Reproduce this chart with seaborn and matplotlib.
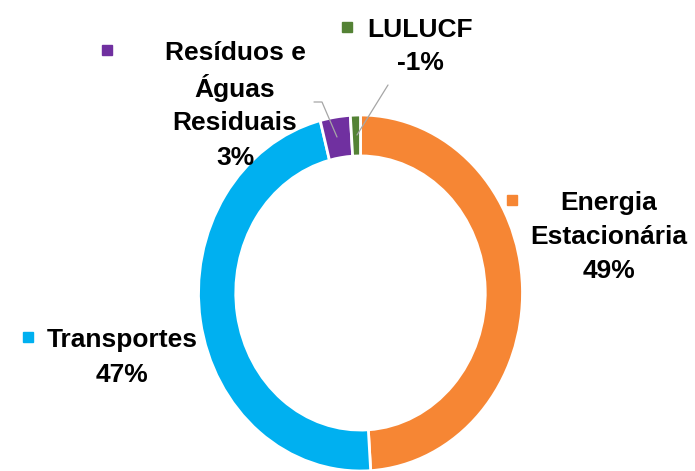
import matplotlib
matplotlib.use('Agg')
import matplotlib.pyplot as plt
import seaborn as sns

# ── Data ───────────────────────────────────────────────
sectors = ['Energia\nEstacionária', 'Transportes', 'Resíduos e\nÁguas\nResiduais', 'LULUCF']
shares = [49, 47, 3, 1]
share_labels = ['49%', '47%', '3%', '-1%']
colors = ['#F68634', '#00B0F0', '#7030A0', '#548235']

sns.set_theme(style='white')
plt.rcParams['font.family'] = ['Liberation Sans', 'DejaVu Sans']

W, H = 695, 471
fig = plt.figure(figsize=(W / 100, H / 100), dpi=100)
ax = fig.add_axes([0, 0, 1, 1])

# ring centre / radii in pixels (ring is a bit taller than wide)
cx, cy, rx, ry = 360.5, 293, 162, 178


def px(x, y):
    return (x - cx) / rx, (cy - y) / ry


ax.pie(shares, colors=colors, startangle=90, counterclock=False,
       radius=1, wedgeprops=dict(width=0.23, edgecolor='white', linewidth=2))
ax.set_aspect('auto')
ax.set_xlim(px(0, 0)[0], px(W, 0)[0])
ax.set_ylim(px(0, H)[1], px(0, 0)[1])
ax.axis('off')

# ── Labels: (text centre x, first line y, marker x, line gap) ─
label_pos = [(609, 203, 512, 34), (122, 340, 28, 35), (235, 53, 107, 35), (420, 30, 347, 33)]
for name, pct, col, (tx, ty, mx, gap) in zip(sectors, share_labels, colors, label_pos):
    lines = name.split('\n') + [pct]
    for i, ln in enumerate(lines):
        ax.text(*px(tx, ty + i * gap), ln, ha='center', va='center',
                fontsize=19, fontweight='bold', color='black')
    ax.plot(*px(mx, ty - 3), marker='s', markersize=7, color=col,
            linestyle='none')

# leader lines
lx, ly = zip(px(314, 102), px(322, 102), px(337, 137))
ax.plot(lx, ly, color='#A6A6A6', linewidth=0.9)
lx, ly = zip(px(388, 85), px(357, 135))
ax.plot(lx, ly, color='#A6A6A6', linewidth=0.9)

plt.savefig('out.png', dpi=100)
